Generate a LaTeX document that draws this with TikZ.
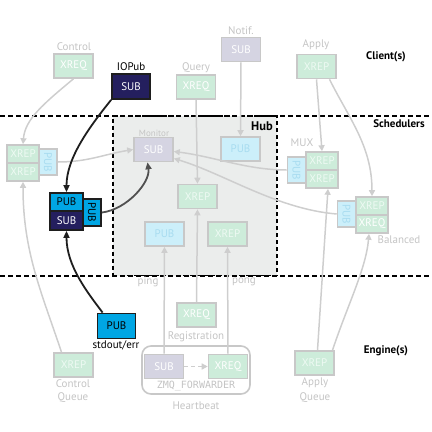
\documentclass[tikz,border=0pt]{standalone}
\usepackage{fontspec}
\setmainfont{PT Sans}
\setmonofont{DejaVu Sans Mono}
\usetikzlibrary{arrows.meta, positioning}
\definecolor{fadegreen}{RGB}{205, 236, 218}
\definecolor{xreptext}{RGB}{238, 250, 243}
\definecolor{fadeblue}{RGB}{204, 239, 250}
\definecolor{pubtext}{RGB}{168, 220, 240}
\definecolor{fadesub}{RGB}{213, 212, 226}
\definecolor{edgegrey}{RGB}{200, 200, 200}
\definecolor{linegrey}{RGB}{206, 206, 206}
\definecolor{labelgrey}{RGB}{196, 196, 196}
\definecolor{hubbg}{RGB}{235, 237, 236}
\definecolor{iopubblue}{RGB}{0, 166, 228}
\definecolor{iosubnavy}{RGB}{36, 31, 94}
\definecolor{darkedge}{RGB}{30, 30, 30}
\definecolor{monwire}{RGB}{80, 80, 80}

\tikzset{
  boxfont/.style={font=\fontsize{11}{12}\selectfont},
  faint/.style={draw=edgegrey, line width=1.6pt, inner sep=0pt, boxfont, minimum width=39pt, minimum height=24pt},
  fxrep/.style={faint, fill=fadegreen, text=xreptext},
  fxreq/.style={faint, fill=fadegreen, text=white},
  fpub/.style={faint, fill=fadeblue, text=pubtext},
  fsub/.style={faint, fill=fadesub, text=white},
  slot/.style={minimum width=32pt, minimum height=18pt},
  vslot/.style={minimum width=18pt, minimum height=26pt},
  strong/.style={draw=darkedge, line width=1.8pt, inner sep=0pt, boxfont, minimum width=38pt, minimum height=25pt},
  spub/.style={strong, fill=iopubblue, text=black},
  ssub/.style={strong, fill=iosubnavy, text=white},
  glabel/.style={text=labelgrey, inner sep=0pt, font=\fontsize{11}{12}\selectfont},
  blabel/.style={text=black, inner sep=0pt, font=\fontsize{11}{12}\selectfont},
  tier/.style={inner sep=0pt, font=\bfseries\fontsize{11}{12}\selectfont},
  wire/.style={draw=linegrey, line width=1.5pt, -{Triangle[length=6pt, width=6pt]}},
  iowire/.style={draw=darkedge, line width=1.8pt, -{Triangle[length=7pt, width=6pt]}},
  tierline/.style={line width=1.8pt, dash pattern=on 5pt off 3pt},
}

\begin{document}
\begin{tikzpicture}[x=1pt, y=-1pt]
  \useasboundingbox (0,0) rectangle (432,432);

  % Hub area
  \node[draw, fill=hubbg, line width=1.8pt, dash pattern=on 4pt off 3pt, minimum width=164pt, minimum height=159.5pt, inner sep=0pt] (hub) at (195,195.75) {};
  \node[tier, font=\bfseries\fontsize{12.5}{14}\selectfont] (hubname) at (262,126) {Hub};

  % Tier separators
  \draw[tierline] (0,116) -- (432,116);
  \draw[tierline] (0,276) -- (432,276);
  \node[tier] (clients) at (386,57) {Client(s)};
  \node[tier] (scheds) at (399,124) {Schedulers};
  \node[tier] (engines) at (386,351) {Engine(s)};

  % Client sockets
  \node[fxreq] (ctrlx) at (73.5,66) {XREQ};
  \node[glabel] (ctrlname) at (74,47) {Control};
  \node[ssub] (iosub) at (131,86.5) {SUB};
  \node[blabel] (ioname) at (131,67) {IOPub};
  \node[fxreq] (queryx) at (196,87) {XREQ};
  \node[glabel] (queryname) at (196,68) {Query};
  \node[fsub] (notifs) at (241,49.5) {SUB};
  \node[glabel] (notifname) at (241,31) {Notif.};
  \node[fxrep] (applyx) at (316.5,66.5) {XREP};
  \node[glabel] (applyname) at (316,45) {Apply};

  % Hub sockets
  \node[fsub] (monsub) at (153.5,149.5) {SUB};
  \node[glabel, font=\fontsize{9}{10}\selectfont] (monname) at (154,133) {Monitor};
  \node[fpub] (hubpub) at (240.5,149) {PUB};
  \node[fxrep] (hubxrep) at (197.5,196.5) {XREP};
  \node[fpub] (pingpub) at (164.5,234) {PUB};
  \node[fxrep] (pongxrep) at (227.5,234) {XREP};
  \node[glabel] (pingname) at (148,282) {ping};
  \node[glabel] (pongname) at (244,282) {pong};

  % Control scheduler
  \node[fxrep, slot] (lx1) at (23,154) {XREP};
  \node[fxrep, slot] (lx2) at (23,172) {XREP};
  \node[fpub, vslot] (lpub) at (48,162) {\rotatebox{-90}{PUB}};

  % IOPub scheduler
  \node[spub, minimum width=33pt, minimum height=18pt] (spubh) at (66.5,202) {PUB};
  \node[ssub, minimum width=33pt, minimum height=19pt] (ssubh) at (66.5,220.5) {SUB};
  \node[spub, minimum width=18pt, minimum height=27pt] (svpub) at (92,212.5) {\rotatebox{-90}{PUB}};

  % MUX scheduler
  \node[fpub, vslot] (mpub) at (296.5,170) {\rotatebox{-90}{PUB}};
  \node[fxrep, slot] (mx1) at (322,161) {XREP};
  \node[fxrep, slot] (mx2) at (322,179) {XREP};
  \node[glabel] (muxname) at (302,143) {MUX};

  % Balanced scheduler
  \node[fpub, vslot] (bpub) at (346.5,214) {\rotatebox{-90}{PUB}};
  \node[fxrep, slot] (bx1) at (372,206) {XREP};
  \node[fxreq, slot] (bx2) at (372,224) {XREQ};
  \node[glabel] (balname) at (399,240) {Balanced};

  % Heartbeat
  \node[draw=edgegrey, fill=white, line width=1.6pt, rounded corners=9pt, minimum width=108pt, minimum height=48pt, inner sep=0pt] (hb) at (196,370) {};
  \node[fsub] (hbsub) at (164,366.5) {SUB};
  \node[fxreq] (hbxreq) at (228,366.5) {XREQ};
  \node[glabel, font=\ttfamily\fontsize{10}{12}\selectfont] (fwdname) at (196,386) {ZMQ\_FORWARDER};
  \node[glabel] (hbname) at (196,406) {Heartbeat};
  \node[fxreq] (regx) at (196.5,315) {XREQ};
  \node[glabel] (regname) at (196,337) {Registration};

  % Engine sockets
  \node[spub] (stdpub) at (116.5,326) {PUB};
  \node[blabel] (stdname) at (116,345) {stdout/err};
  \node[fxrep] (cqx) at (73.5,365) {XREP};
  \node[glabel] (cqname1) at (73,384) {Control};
  \node[glabel] (cqname2) at (73,398) {Queue};
  \node[fxrep] (aqx) at (314.5,363) {XREP};
  \node[glabel] (aqname1) at (315,383) {Apply};
  \node[glabel] (aqname2) at (315,398) {Queue};

  % Grey connectors
  \draw[wire] (ctrlx.south) .. controls +(-30,25) and +(2,-25) .. (lx1.north);
  \draw[wire] ([xshift=-12pt]cqx.north) .. controls +(-20,-60) and +(0,70) .. (lx2.south);
  \draw[wire] (applyx.south) -- (mx1.north);
  \draw[wire] ([xshift=13pt]applyx.south) .. controls +(20,40) and +(0,-50) .. (bx1.north);
  \draw[wire] ([xshift=3pt]aqx.north) -- ([xshift=6pt]mx2.south);
  \draw[wire] ([xshift=18pt]aqx.north) .. controls +(15,-45) and +(-3,35) .. ([xshift=-3pt]bx2.south);
  \draw[wire] (queryx.south) -- (hubxrep.north);
  \draw[wire] (notifs.south) -- (hubpub.north);
  \draw[wire] (regx.north) -- (hubxrep.south);
  \draw[wire] (hbsub.north) -- (pingpub.south);
  \draw[wire] (hbxreq.north) -- (pongxrep.south);
  \draw[wire, dash pattern=on 4pt off 3pt] (hbsub.east) -- (hbxreq.west);
  \draw[wire] (lpub.east) .. controls +(30,0) and +(-30,5) .. (monsub.west);
  \draw[wire] (mpub.west) .. controls +(-40,0) and +(40,5) .. ([yshift=-2pt]monsub.east);
  \draw[wire] (bpub.west) .. controls +(-60,-5) and +(50,15) .. ([yshift=-9pt]monsub.east);

  % IOPub connectors
  \draw[iowire] (iosub.south west) .. controls +(-20,25) and +(0,-35) .. (spubh.north);
  \draw[iowire] ([xshift=6pt]stdpub.north west) .. controls +(-15,-20) and +(0,35) .. (ssubh.south);
  \draw[iowire, draw=monwire] (svpub.east) .. controls +(25,-3) and +(3,20) .. ([xshift=-6pt]monsub.south);
\end{tikzpicture}
\end{document}
